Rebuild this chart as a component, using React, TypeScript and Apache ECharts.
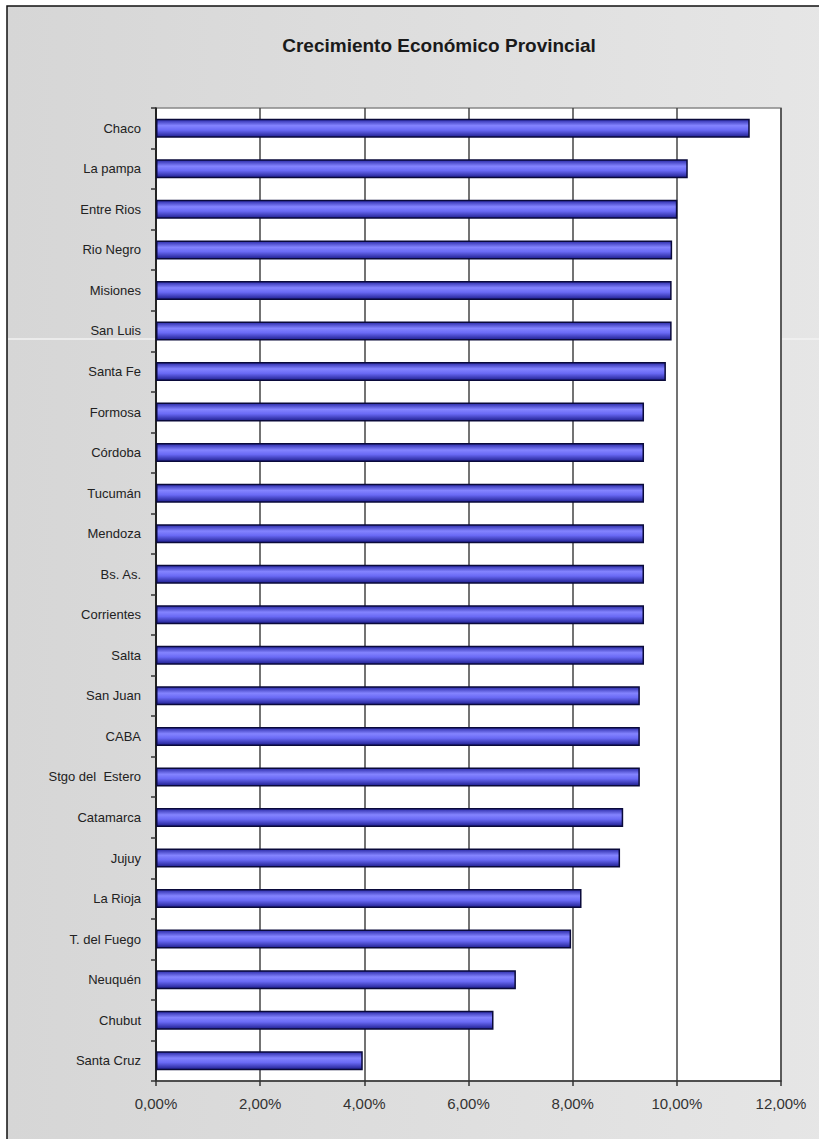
import React, { useEffect, useRef } from "react";
import * as echarts from "echarts";

const categories = [
  "Chaco", "La pampa", "Entre Rios", "Rio Negro", "Misiones", "San Luis", "Santa Fe",
  "Formosa", "Córdoba", "Tucumán", "Mendoza", "Bs. As.", "Corrientes", "Salta",
  "San Juan", "CABA", "Stgo del  Estero", "Catamarca", "Jujuy", "La Rioja",
  "T. del Fuego", "Neuquén", "Chubut", "Santa Cruz",
];
const values = [
  11.4, 10.21, 10.01, 9.91, 9.9, 9.9, 9.79,
  9.37, 9.37, 9.37, 9.37, 9.37, 9.37, 9.37,
  9.29, 9.29, 9.29, 8.97, 8.91, 8.17,
  7.97, 6.91, 6.48, 3.97,
];
const xTicks = [0, 2, 4, 6, 8, 10, 12];
const title = "Crecimiento Económico Provincial";

export default function App() {
  const ref = useRef<HTMLDivElement>(null);
  useEffect(() => {
    document.body.style.margin = "0";
    const chart = echarts.init(ref.current!, null, { renderer: "svg" });
    const font = "'Liberation Sans', Arial, sans-serif";
    chart.setOption({
      animation: false,
      backgroundColor: "#ffffff",
      graphic: [
        {
          type: "rect",
          z: -10,
          silent: true,
          shape: { x: 7, y: 6, width: 830, height: 1150 },
          style: {
            fill: new echarts.graphic.LinearGradient(0, 0, 1, 0, [
              { offset: 0, color: "#d6d6d6" },
              { offset: 1, color: "#e6e6e6" },
            ]),
            stroke: "#111",
            lineWidth: 1.5,
          },
        },
        {
          type: "line",
          z: -9,
          silent: true,
          shape: { x1: 8, y1: 339, x2: 819, y2: 339 },
          style: { stroke: "#f2f2f2", lineWidth: 1.5 },
        },
      ],
      title: {
        text: title,
        left: 434,
        top: 31,
        textAlign: "center",
        textStyle: { fontFamily: font, fontSize: 19, fontWeight: "bold", color: "#1a1a1a" },
      },
      grid: {
        left: 156,
        right: 38,
        top: 108,
        bottom: 58,
        show: true,
        backgroundColor: "#ffffff",
        borderColor: "#888",
        borderWidth: 1.5,
        z: 0,
      },
      xAxis: {
        type: "value",
        min: xTicks[0],
        max: xTicks[xTicks.length - 1],
        interval: 2,
        axisLine: { show: true, lineStyle: { color: "#333", width: 1.5 } },
        axisTick: { show: true, length: 5, lineStyle: { color: "#333", width: 1.5 } },
        splitLine: { show: true, lineStyle: { color: "#444", width: 1.5 } },
        axisLabel: {
          fontFamily: font,
          fontSize: 15,
          color: "#333",
          margin: 15,
          formatter: (v: number) => v.toFixed(2).replace(".", ",") + "%",
        },
      },
      yAxis: {
        type: "category",
        data: categories,
        inverse: true,
        axisLine: { show: true, lineStyle: { color: "#111", width: 1.5 } },
        axisTick: { show: true, length: 5, lineStyle: { color: "#333", width: 1.5 } },
        axisLabel: { fontFamily: font, fontSize: 13, color: "#222", margin: 15, padding: [0, 0, 6, 0] },
        splitLine: { show: false },
      },
      series: [
        {
          type: "bar",
          data: values,
          barWidth: 19,
          itemStyle: {
            color: new echarts.graphic.LinearGradient(0, 0, 0, 1, [
              { offset: 0, color: "#2a2aa8" },
              { offset: 0.35, color: "#8484ff" },
              { offset: 0.6, color: "#6a6af5" },
              { offset: 1, color: "#1f1f90" },
            ]),
            borderColor: "#0a0a3a",
            borderWidth: 1.5,
          },
        },
      ],
    });
    return () => chart.dispose();
  }, []);
  return <div ref={ref} style={{ width: 819, height: 1139 }} />;
}
